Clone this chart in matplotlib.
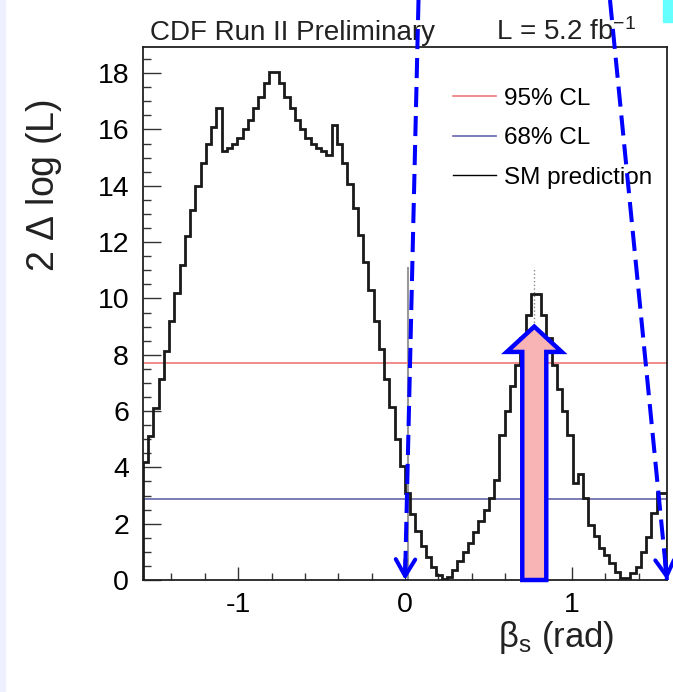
import numpy as np
import matplotlib
matplotlib.use("Agg")
import matplotlib.pyplot as plt
from matplotlib.patches import FancyArrow, Rectangle
from matplotlib.lines import Line2D

plt.rcParams['font.family'] = ['Liberation Sans', 'DejaVu Sans']
plt.rcParams['mathtext.default'] = 'regular'
plt.rcParams['axes.unicode_minus'] = False

# 2 delta log(L) profile, 100 bins over [-pi/2, pi/2]
dlogl = [4.2, 5.1, 6.1, 7.15, 8.15, 9.2, 10.2, 11.2, 12.2, 13.15,
         14.0, 14.8, 15.5, 16.1, 16.75, 15.25, 15.35, 15.5, 15.7, 16.0,
         16.35, 16.75, 17.15, 17.65, 18.05, 18.05, 17.65, 17.15, 16.75, 16.35,
         16.0, 15.7, 15.5, 15.35, 15.25, 15.1, 16.15, 15.5, 14.8, 14.05,
         13.2, 12.25, 11.3, 10.3, 9.2, 8.2, 7.15, 6.15, 5.0, 4.05,
         3.1, 2.35, 1.75, 1.2, 0.8, 0.45, 0.18, 0.02, 0.12, 0.36,
         0.68, 1.0, 1.3, 1.7, 2.1, 2.5, 2.9, 3.55, 5.15, 6.0,
         6.9, 7.65, 8.6, 9.4, 10.15, 10.15, 9.4, 8.6, 7.65, 6.8,
         6.0, 5.15, 3.45, 3.75, 2.9, 1.95, 1.55, 1.13, 0.89, 0.6,
         0.3, 0.06, 0.06, 0.24, 0.47, 1.0, 1.54, 2.37, 3.08, 3.1]
edges = np.linspace(-np.pi / 2, np.pi / 2, len(dlogl) + 1)

cl_levels = [7.72, 2.88]
cl_labels = ['95% CL', '68% CL']
cl_colors = ['#ee7777', '#6666aa']

sm_beta = 0.015       # SM prediction
sm_top = 11.1
best_beta = 0.775     # highlighted solution
best_tip = 9.0
arrow_targets = [0.0, np.pi / 2]     # where the dashed arrows land (data x)
arrow_starts = [418.5 / 673, 610 / 673]  # figure fraction at top edge

fig = plt.figure(figsize=(6.73, 6.92), dpi=100)
ax = fig.add_axes([143 / 673, 112 / 692, 524 / 673, 533 / 692])

# slide decorations
fig.patches.append(Rectangle((0, 0), 5 / 673, 1, transform=fig.transFigure,
                             color='#eef0ff', zorder=0))
fig.patches.append(Rectangle((663 / 673, 670 / 692), 10 / 673, 22 / 692,
                             transform=fig.transFigure, color='#66ffff', zorder=0))

ax.vlines(sm_beta, 0, sm_top, color='#999999', lw=1.5, zorder=1)
ax.vlines(best_beta, 0, sm_top, color='#888888', lw=1.0, linestyles=':', zorder=1)

for lev, lab, col in zip(cl_levels, cl_labels, cl_colors):
    ax.axhline(lev, color=col, lw=1.2, label=lab, zorder=2)
ax.plot([], [], color='black', lw=1.0, label='SM prediction')

ax.stairs(dlogl, edges, color='#1a1a1a', lw=2.0, zorder=3)

ax.set_xlim(-np.pi / 2, np.pi / 2)
ax.set_ylim(0, 18.93)
ax.set_xticks([-1, 0, 1])
ax.set_xticks(np.arange(-1.4, 1.5, 0.2), minor=True)
ax.set_yticks(np.arange(0, 19, 2))
ax.set_yticks(np.arange(0, 19, 0.5), minor=True)
ax.tick_params(which='both', direction='in', labelsize=20.5, width=1.0, color='#333333')
ax.tick_params(axis='x', which='major', length=9.5, pad=9)
ax.tick_params(axis='x', which='minor', length=5)
ax.tick_params(axis='y', which='major', length=13, pad=10)
ax.tick_params(axis='y', which='minor', length=6)
for s in ax.spines.values():
    s.set_linewidth(1.3)
    s.set_color('#222222')

leg = ax.legend(loc='upper left', bbox_to_anchor=(0.55, 0.965), frameon=False,
                fontsize=17.5, handlelength=1.75, handletextpad=0.35, labelspacing=0.72)

# highlighted solution arrow
ax.add_patch(FancyArrow(best_beta, 0.0, 0, best_tip, width=0.144, head_width=0.33,
                        head_length=0.9, length_includes_head=True,
                        fc='#f8b4b4', ec='#0000ff', lw=3.2, zorder=5, clip_on=False))

# dashed blue arrows from the top of the slide
to_fig = fig.transFigure.inverted()
for xs, xt in zip(arrow_starts, arrow_targets):
    tip_px = ax.transData.transform((xt, 0))
    start_px = fig.transFigure.transform((xs, 1.0))
    tx, ty = to_fig.transform(tip_px)
    fig.add_artist(Line2D([xs, tx], [1.0, ty], transform=fig.transFigure,
                          color='#0000ff', lw=2.9, linestyle=(0, (5, 2.2)),
                          dash_capstyle='butt', zorder=6))
    d = start_px - tip_px
    d = d / np.hypot(*d) * 20 * 0.72   # 20 px back along the line, in points
    ax.annotate('', xy=(xt, 0), xycoords='data', xytext=(d[0], d[1]),
                textcoords='offset points', annotation_clip=False,
                arrowprops=dict(arrowstyle='->, head_length=1.2, head_width=0.7',
                                color='#0000ff', lw=2.9, shrinkA=0, shrinkB=0,
                                mutation_scale=10),
                zorder=6)

fig.text(150 / 673, 1 - 40 / 692, 'CDF Run II Preliminary', fontsize=20,
         color='#222222', ha='left', va='baseline')
fig.text(496 / 673, 1 - 40 / 692, r'L = 5.2 fb$^{-1}$', fontsize=20,
         color='#222222', ha='left', va='baseline')
fig.text(44 / 673, 1 - 186 / 692, r'2 $\Delta$ log (L)', fontsize=27, rotation=90,
         ha='center', va='center', color='#222222')
fig.text(556 / 673, 1 - 638 / 692, r'$\beta_s$ (rad)', fontsize=25,
         ha='center', va='center', color='#222222')

fig.savefig('out.png', dpi=100)
